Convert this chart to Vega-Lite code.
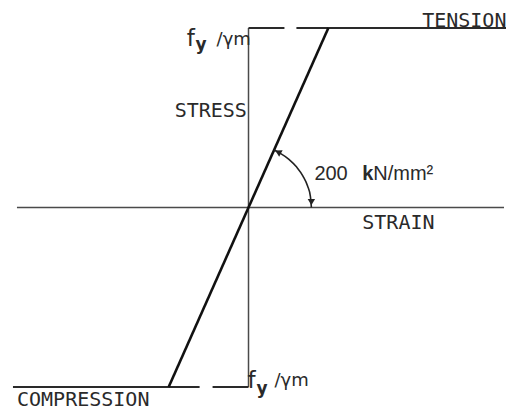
{
  "$schema": "https://vega.github.io/schema/vega-lite/v6.json",
  "width": 507,
  "height": 411,
  "autosize": {"type": "fit", "contains": "padding"},
  "padding": 0,
  "background": "white",
  "config": {"view": {"stroke": null}},
  "datasets": {
    "lines": [
      {"kind": "axis", "x": -2.9, "y": 0, "x2": 3.2, "y2": 0},
      {"kind": "axis", "x": 0, "y": -1, "x2": 0, "y2": 1},
      {"kind": "guide", "x": 0, "y": 1, "x2": 0.45, "y2": 1},
      {"kind": "plateau", "x": 0.6, "y": 1, "x2": 3.225, "y2": 1},
      {"kind": "plateau", "x": -2.95, "y": -1, "x2": -0.6125, "y2": -1},
      {"kind": "guide", "x": -0.45, "y": -1, "x2": 0, "y2": -1},
      {"kind": "elastic", "x": -1, "y": -1, "x2": 1, "y2": 1}
    ],
    "arc": [
      {"i": 0, "x": 0.3203, "y": 0.3197},
      {"i": 1, "x": 0.3938, "y": 0.3031},
      {"i": 2, "x": 0.5062, "y": 0.2681},
      {"i": 3, "x": 0.6032, "y": 0.2250},
      {"i": 4, "x": 0.6820, "y": 0.1750},
      {"i": 5, "x": 0.7400, "y": 0.1197},
      {"i": 6, "x": 0.7755, "y": 0.0608},
      {"i": 7, "x": 0.7875, "y": 0.0}
    ],
    "arrowStart": [{"x": 0.37, "y": 0.309}],
    "arrowEnd": [{"x": 0.7875, "y": 0.03}],
    "texts": [
      {"kind": "label", "text": "TENSION", "x": 2.175, "y": 1.0056},
      {"kind": "label", "text": "STRESS", "x": -0.925, "y": 0.5056},
      {"kind": "label", "text": "STRAIN", "x": 1.425, "y": -0.1222},
      {"kind": "label", "text": "COMPRESSION", "x": -2.9, "y": -1.1056},
      {"kind": "value", "text": "200", "x": 0.825, "y": 0.1556},
      {"kind": "prefix", "text": "k", "x": 1.425, "y": 0.1556},
      {"kind": "value", "text": "N/mm²", "x": 1.5625, "y": 0.1556},
      {"kind": "symbol", "text": "f", "x": -0.775, "y": 0.9},
      {"kind": "subscript", "text": "y", "x": -0.6625, "y": 0.8778},
      {"kind": "divisor", "text": "/γm", "x": -0.4, "y": 0.9056},
      {"kind": "symbol", "text": "f", "x": -0.0125, "y": -1.0056},
      {"kind": "subscript", "text": "y", "x": 0.1, "y": -1.0389},
      {"kind": "divisor", "text": "/γm", "x": 0.325, "y": -0.9944}
    ]
  },
  "encoding": {
    "x": {"field": "x", "type": "quantitative", "axis": null,
          "scale": {"domain": [-3.1125, 3.225], "nice": false, "zero": false}},
    "y": {"field": "y", "type": "quantitative", "axis": null,
          "scale": {"domain": [-1.12778, 1.15556], "nice": false, "zero": false}}
  },
  "layer": [
    {
      "data": {"name": "lines"},
      "transform": [{"filter": "datum.kind === 'axis'"}],
      "mark": {"type": "rule", "color": "#4a4a4a", "strokeWidth": 1.5},
      "encoding": {"x2": {"field": "x2"}, "y2": {"field": "y2"}}
    },
    {
      "data": {"name": "lines"},
      "transform": [{"filter": "datum.kind === 'guide' || datum.kind === 'plateau'"}],
      "mark": {"type": "rule", "color": "#2a2a2a", "strokeWidth": 2},
      "encoding": {"x2": {"field": "x2"}, "y2": {"field": "y2"}}
    },
    {
      "data": {"name": "lines"},
      "transform": [{"filter": "datum.kind === 'elastic'"}],
      "mark": {"type": "rule", "color": "#111111", "strokeWidth": 2.6},
      "encoding": {"x2": {"field": "x2"}, "y2": {"field": "y2"}}
    },
    {
      "data": {"name": "arc"},
      "mark": {"type": "line", "color": "#222222", "strokeWidth": 1.6, "interpolate": "monotone"},
      "encoding": {"order": {"field": "i", "type": "quantitative"}}
    },
    {
      "data": {"name": "arrowStart"},
      "mark": {"type": "point", "shape": "triangle-up", "angle": 298, "size": 55,
               "filled": true, "color": "#222222", "opacity": 1},
      "encoding": {}
    },
    {
      "data": {"name": "arrowEnd"},
      "mark": {"type": "point", "shape": "triangle-down", "size": 55,
               "filled": true, "color": "#222222", "opacity": 1},
      "encoding": {}
    },
    {
      "data": {"name": "texts"},
      "transform": [{"filter": "datum.kind === 'label'"}],
      "mark": {"type": "text", "align": "left", "baseline": "alphabetic",
               "font": "DejaVu Sans Mono", "fontSize": 20, "color": "#2a2a2a"},
      "encoding": {"text": {"field": "text"}}
    },
    {
      "data": {"name": "texts"},
      "transform": [{"filter": "datum.kind === 'value'"}],
      "mark": {"type": "text", "align": "left", "baseline": "alphabetic",
               "font": "Liberation Sans", "fontSize": 20, "color": "#2a2a2a"},
      "encoding": {"text": {"field": "text"}}
    },
    {
      "data": {"name": "texts"},
      "transform": [{"filter": "datum.kind === 'prefix'"}],
      "mark": {"type": "text", "align": "left", "baseline": "alphabetic",
               "font": "Liberation Sans", "fontSize": 20, "fontWeight": "bold", "color": "#2a2a2a"},
      "encoding": {"text": {"field": "text"}}
    },
    {
      "data": {"name": "texts"},
      "transform": [{"filter": "datum.kind === 'symbol'"}],
      "mark": {"type": "text", "align": "left", "baseline": "alphabetic",
               "font": "DejaVu Sans", "fontSize": 23, "color": "#2a2a2a"},
      "encoding": {"text": {"field": "text"}}
    },
    {
      "data": {"name": "texts"},
      "transform": [{"filter": "datum.kind === 'subscript'"}],
      "mark": {"type": "text", "align": "left", "baseline": "alphabetic",
               "font": "DejaVu Sans", "fontSize": 17, "fontWeight": "bold", "color": "#2a2a2a"},
      "encoding": {"text": {"field": "text"}}
    },
    {
      "data": {"name": "texts"},
      "transform": [{"filter": "datum.kind === 'divisor'"}],
      "mark": {"type": "text", "align": "left", "baseline": "alphabetic",
               "font": "DejaVu Sans", "fontSize": 18, "color": "#2a2a2a"},
      "encoding": {"text": {"field": "text"}}
    }
  ]
}
